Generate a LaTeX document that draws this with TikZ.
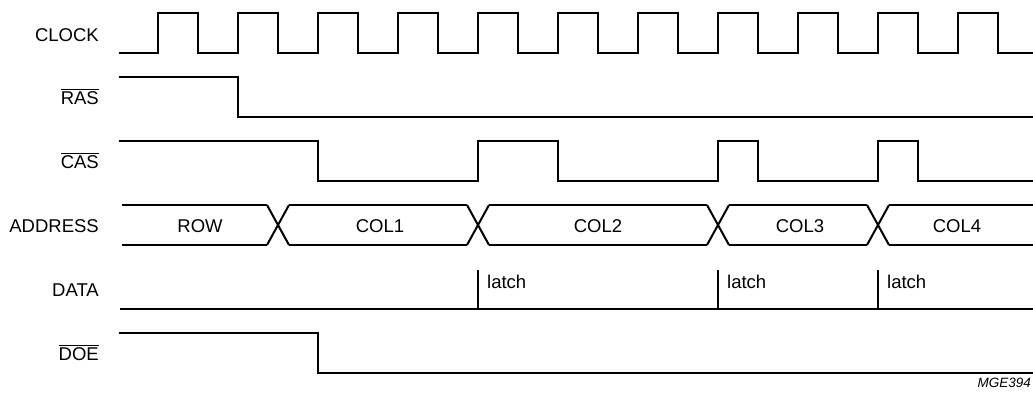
\documentclass[tikz,border=0pt]{standalone}
\usepackage{fontspec}
\setmainfont{Liberation Sans}
\usetikzlibrary{positioning}

\tikzset{
  signame/.style={anchor=base east, inner sep=0pt},
  busval/.style={anchor=base, inner sep=0pt},
  wave/.style={line width=2pt, line join=miter},
}

\begin{document}
\begin{tikzpicture}[x=1pt, y=-1pt, font=\fontsize{18.5}{22}\selectfont]
    \useasboundingbox (0,0) rectangle (1033,400);

    % signal names
    \node[signame] (clk) at (99,41) {CLOCK};
    \node[signame] (ras) at (99,104) {$\overline{\mbox{RAS}}$};
    \node[signame] (cas) at (99,168) {$\overline{\mbox{CAS}}$};
    \node[signame] (addr) at (99,232) {ADDRESS};
    \node[signame] (data) at (99,296) {DATA};
    \node[signame] (doe) at (99,360) {$\overline{\mbox{DOE}}$};

    % clock
    \draw[wave] (119,53) \foreach \x in {158,238,...,958} {-- (\x,53) -- (\x,13) -- (\x+40,13) -- (\x+40,53)} -- (1040,53);

    % RAS and CAS
    \draw[wave] (119,77) -- (238,77) -- (238,117) -- (1040,117);
    \draw[wave] (119,141) -- (318,141) -- (318,181) -- (478,181) -- (478,141) -- (558,141) -- (558,181)
        -- (718,181) -- (718,141) -- (758,141) -- (758,181) -- (878,181) -- (878,141) -- (918,141) -- (918,181) -- (1040,181);

    % address bus
    \draw[wave] (122,205) -- (267,205);
    \draw[wave] (122,245) -- (267,245);
    \foreach \c/\n in {278/478, 478/718, 718/878, 878/1051} {
        \draw[wave] (\c-11,205) -- (\c+11,245);
        \draw[wave] (\c-11,245) -- (\c+11,205);
        \draw[wave] (\c+11,205) -- (\n-11,205);
        \draw[wave] (\c+11,245) -- (\n-11,245);
    }
    \node[busval] (row) at (200,232) {ROW};
    \node[busval] (col1) at (380,232) {COL1};
    \node[busval] (col2) at (598,232) {COL2};
    \node[busval] (col3) at (800,232) {COL3};
    \node[busval] (col4) at (957,232) {COL4};

    % data
    \draw[wave] (120,309) -- (1040,309);
    \foreach \x/\nm in {478/l1, 718/l2, 878/l3} {
        \draw[wave] (\x,309) -- (\x,270);
        \node[anchor=base west, inner sep=0pt] (\nm) at (\x+9,288) {latch};
    }

    % DOE
    \draw[wave] (119,333) -- (318,333) -- (318,373) -- (1040,373);

    \node[anchor=base east, inner sep=0pt, font=\fontsize{13.5}{16}\selectfont\itshape] (tag) at (1031,387) {MGE394};
\end{tikzpicture}
\end{document}
